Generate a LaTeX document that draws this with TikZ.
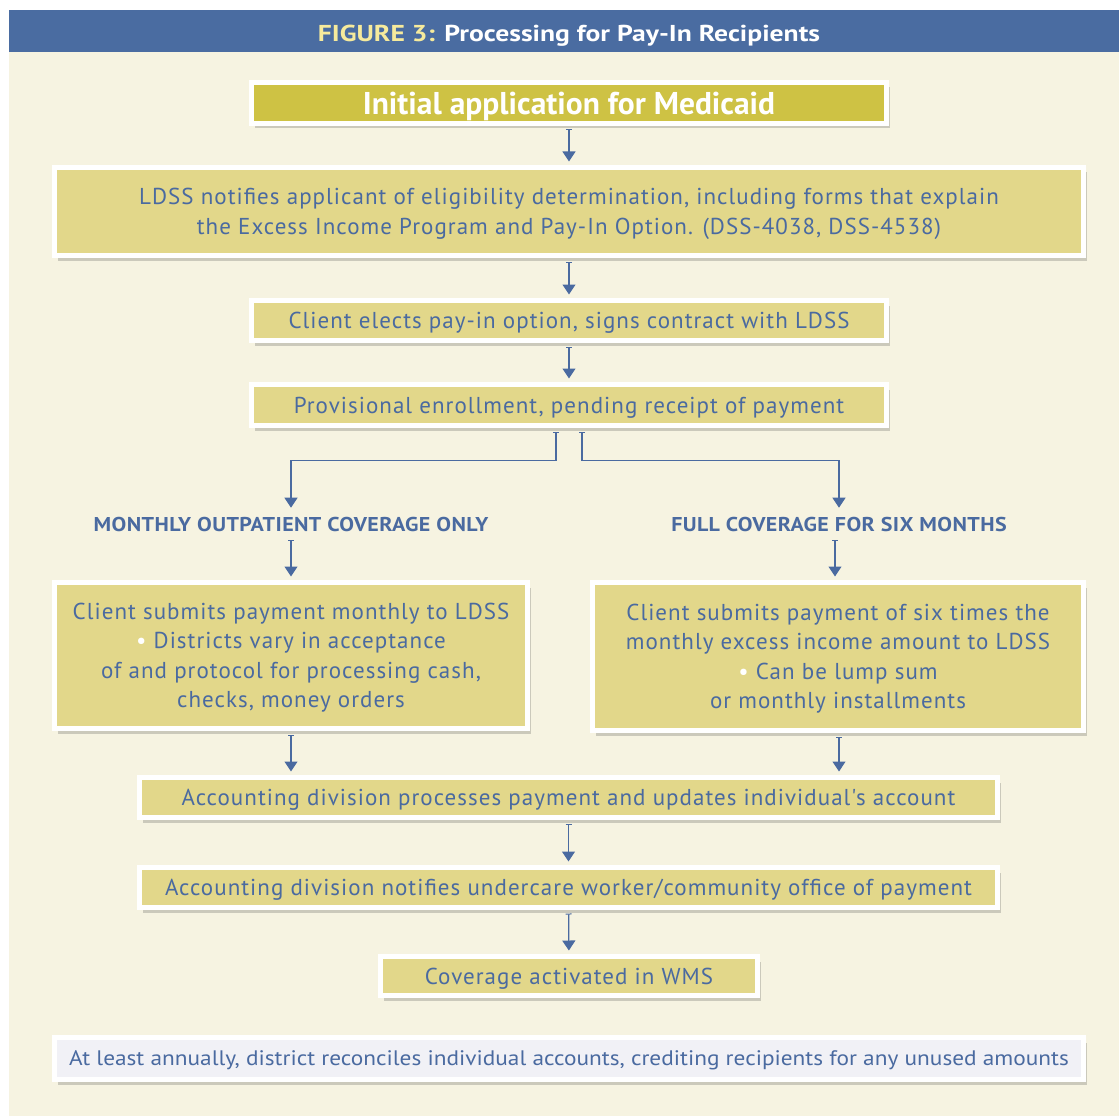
\documentclass[tikz,border=0pt]{standalone}
\usepackage{fontspec}
\setmainfont{PT Sans}
\newfontfamily\titlefont[FakeStretch=1.2]{PT Sans}
\newfontfamily\headfont[FakeStretch=1.0]{PT Sans}
\newfontfamily\labelfont[FakeStretch=1.1,LetterSpace=2]{PT Sans}
\newfontfamily\notefont[FakeStretch=1.11]{PT Sans}
\newfontfamily\boxfont[LetterSpace=4.5]{PT Sans}
\usetikzlibrary{arrows.meta,shadows}
\definecolor{barblue}{HTML}{4A6CA1}
\definecolor{cream}{HTML}{F6F3E1}
\definecolor{olive}{HTML}{CEC244}
\definecolor{boxfill}{HTML}{E2D78A}
\definecolor{txtblue}{HTML}{4A6AA0}
\definecolor{titleyellow}{HTML}{F6EA9C}
\definecolor{lavender}{HTML}{F1F1F6}
\tikzset{
  flowbox/.style={draw=white, line width=5pt, fill=boxfill, inner sep=0pt, outer sep=6pt,
    align=center, text=txtblue, font=\boxfont\fontsize{23}{29.5}\selectfont, text depth=-1pt,
    drop shadow={shadow xshift=3pt, shadow yshift=-5pt, opacity=0.25, fill=black!70}},
  branchlabel/.style={text=txtblue, font=\labelfont\bfseries\fontsize{20}{21}\selectfont, inner sep=0pt, outer sep=9pt},
  arr/.style={draw=txtblue, line width=1.2pt, arrows={Bar[width=6pt,line width=1pt]-Triangle[width=13pt,length=10pt]}},
}
\begin{document}
\begin{tikzpicture}[x=1pt,y=-1pt]
\useasboundingbox (0,0) rectangle (1119,1118);
\fill[white] (0,0) rectangle (1119,1118);
\fill[cream] (9,52) rectangle (1119,1116);
\fill[barblue] (9,10) rectangle (1119,52);
\node[inner sep=0pt, font=\titlefont\bfseries\fontsize{23}{24}\selectfont, text=white] (title) at (569,35.5)
  {\textcolor{titleyellow}{FIGURE 3:} Processing for Pay-In Recipients};

\node[flowbox, fill=olive, minimum width=635pt, minimum height=41pt, text=white,
  font=\headfont\bfseries\fontsize{31.5}{33}\selectfont] (b1) at (569,103) {Initial application for Medicaid};
\node[flowbox, minimum width=1029pt, minimum height=88pt] (b2) at (569,211.5)
  {LDSS notifies applicant of eligibility determination, including forms that explain\\
   the Excess Income Program and Pay-In Option. (DSS-4038, DSS-4538)};
\node[flowbox, minimum width=635pt, minimum height=40pt] (b3) at (569,320.5)
  {Client elects pay-in option, signs contract with LDSS};
\node[flowbox, minimum width=635pt, minimum height=41pt] (b4) at (569,405)
  {Provisional enrollment, pending receipt of payment};

\node[branchlabel] (l1) at (291,524) {MONTHLY OUTPATIENT COVERAGE ONLY};
\node[branchlabel] (l2) at (839,524) {FULL COVERAGE FOR SIX MONTHS};

\node[flowbox, minimum width=473pt, minimum height=146pt] (lb) at (291,655.5)
  {Client submits payment monthly to LDSS\\
   \textcolor{white}{\textbullet} Districts vary in acceptance\\
   of and protocol for processing cash,\\
   checks, money orders};
\node[flowbox, minimum width=491pt, minimum height=148pt] (rb) at (838,656.5)
  {Client submits payment of six times the\\
   monthly excess income amount to LDSS\\
   \textcolor{white}{\textbullet} Can be lump sum\\
   or monthly installments};

\node[flowbox, minimum width=858pt, minimum height=40pt] (a1) at (568.5,797.5)
  {Accounting division processes payment and updates individual's account};
\node[flowbox, minimum width=858pt, minimum height=40pt] (a2) at (568.5,887.5)
  {Accounting division notifies undercare worker/community office of payment};
\node[flowbox, minimum width=377pt, minimum height=39pt] (cv) at (569,976)
  {Coverage activated in WMS};

\node[flowbox, fill=lavender, minimum width=1029pt, minimum height=42pt,
  font=\notefont\fontsize{21}{22}\selectfont] (note) at (569,1058.5)
  {At least annually, district reconciles individual accounts, crediting recipients for any unused amounts};

\draw[arr] (b1) -- (b2);
\draw[arr] (b2) -- (b3);
\draw[arr] (b3) -- (b4);
\draw[arr] ([xshift=-13pt]b4.south) -- ++(0,29) -| (l1.north);
\draw[arr] ([xshift=13pt]b4.south) -- ++(0,29) -| (l2.north);
\draw[arr] (l1.south) -- (l1.south |- lb.north);
\draw[arr] ([xshift=-4pt]l2.south) -- ([xshift=-4pt]l2.south |- rb.north);
\draw[arr] (lb.south) -- (lb.south |- a1.north);
\draw[arr] ([xshift=1pt]rb.south) -- ([xshift=1pt]rb.south |- a1.north);
\draw[arr] (a1) -- (a2);
\draw[arr] (a2) -- (cv);
\end{tikzpicture}
\end{document}
